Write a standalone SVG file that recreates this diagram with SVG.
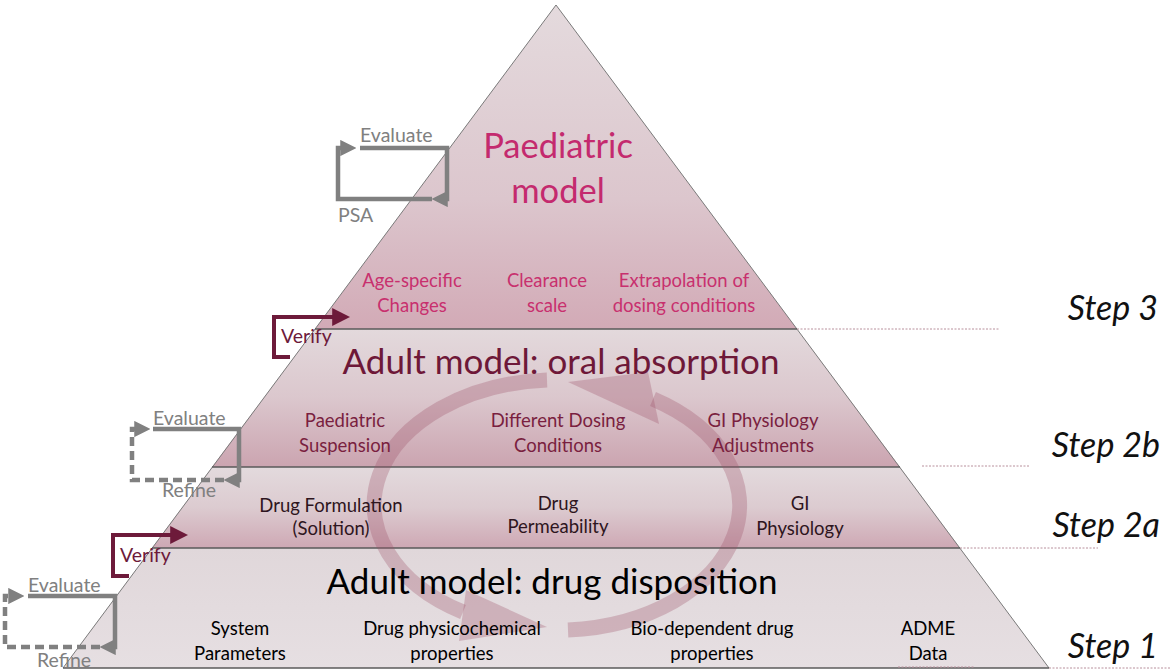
<svg xmlns="http://www.w3.org/2000/svg" width="1171" height="670" viewBox="0 0 1171 670">
<defs>
<linearGradient id="g3" x1="0" y1="0" x2="0" y2="1"><stop offset="0" stop-color="#e4dadd"/><stop offset="0.6" stop-color="#dcc6cd"/><stop offset="1" stop-color="#d2aab6"/></linearGradient>
<linearGradient id="g2b" x1="0" y1="0" x2="0" y2="1"><stop offset="0" stop-color="#e3d9dc"/><stop offset="0.5" stop-color="#dbc7cd"/><stop offset="1" stop-color="#cba4b0"/></linearGradient>
<linearGradient id="g2a" x1="0" y1="0" x2="0" y2="1"><stop offset="0" stop-color="#e3dadd"/><stop offset="0.5" stop-color="#dccbd0"/><stop offset="1" stop-color="#cea8b4"/></linearGradient>
<linearGradient id="g1" x1="0" y1="0" x2="0" y2="1"><stop offset="0" stop-color="#e0d7da"/><stop offset="1" stop-color="#e6dfe2"/></linearGradient>
<marker id="ag" viewBox="0 0 10 10" refX="6" refY="5" markerWidth="3.6" markerHeight="3.6" orient="auto" markerUnits="strokeWidth"><path d="M0,0 L10,5 L0,10 z" fill="#808080"/></marker>
<marker id="am" viewBox="0 0 10 10" refX="6" refY="5" markerWidth="4.5" markerHeight="4.5" orient="auto" markerUnits="strokeWidth"><path d="M0,0 L10,5 L0,10 z" fill="#6d1a3a"/></marker>
<style>
.t{font-family:Lato,"Liberation Sans",sans-serif;text-anchor:middle}
.band{stroke:none}
.side{stroke:#7a7a7a;stroke-width:1;fill:none}
.hl{stroke:#5a5a5a;stroke-width:1.3}
.dot{stroke:#b8909c;stroke-width:1;stroke-dasharray:2 1.5}
.step{font-family:Lato,"Liberation Sans",sans-serif;font-style:italic;font-size:34px;fill:#111;text-anchor:end}
.lp{stroke:#808080;stroke-width:4.5;fill:none}
.ld{stroke:#808080;stroke-width:4.5;fill:none;stroke-dasharray:9 5}
.lv{stroke:#6d1a3a;stroke-width:4;fill:none}
.gl{font-family:Lato,"Liberation Sans",sans-serif;font-size:19.5px;fill:#808080}
.vl{font-family:Lato,"Liberation Sans",sans-serif;font-size:19.5px;fill:#6d1a3a}
.ring{fill:none;stroke:#9a5068;stroke-opacity:0.3;stroke-width:15}
.ringh{fill:#9a5068;fill-opacity:0.3}
.s{font-size:18.5px}
</style>
</defs>
<g id="bands">
<polygon class="band" points="556,5 797,329 315,329" fill="url(#g3)"/>
<polygon class="band" points="315,329 797,329 900,467 212,467" fill="url(#g2b)"/>
<polygon class="band" points="212,467 900,467 960,548 152,548" fill="url(#g2a)"/>
<polygon class="band" points="152,548 960,548 1049,668 63,668" fill="url(#g1)"/>
<polyline class="side" points="63,668 556,5 1049,668"/>
<line class="hl" x1="315" y1="329" x2="797" y2="329"/>
<line class="hl" x1="212" y1="467" x2="900" y2="467"/>
<line class="hl" x1="152" y1="548" x2="960" y2="548"/>
<line class="hl" x1="63" y1="668" x2="1049" y2="668"/>
<line class="dot" x1="797" y1="329" x2="1000" y2="329"/>
<line class="dot" x1="922" y1="466" x2="1030" y2="466"/>
<line class="dot" x1="960" y1="548" x2="1098" y2="548"/>
<line class="dot" x1="1049" y1="668" x2="1171" y2="668"/>
<line class="dot" x1="898" y1="667" x2="975" y2="667"/>
</g>
<g id="cycle">
<path class="ring" d="M 547 380 A 183 125 0 0 0 463 612"/>
<polygon class="ringh" points="547,627 466,590 459,641"/>
<path class="ring" d="M 568 630 A 183 125 0 0 0 653 399"/>
<polygon class="ringh" points="568,382 648,372 659,424"/>
</g>
<g id="paediatric">
<text class="t" x="558" y="158" font-size="34.5" fill="#c42a6e">Paediatric</text>
<text class="t" x="558" y="203" font-size="34.5" fill="#c42a6e">model</text>
<text class="t s" x="412" y="287" fill="#c8306e">Age-specific</text>
<text class="t s" x="412" y="312" fill="#c8306e">Changes</text>
<text class="t s" x="547" y="287" fill="#c8306e">Clearance</text>
<text class="t s" x="547" y="312" fill="#c8306e">scale</text>
<text class="t s" x="684" y="287" fill="#c8306e">Extrapolation of</text>
<text class="t s" x="684" y="312" fill="#c8306e">dosing conditions</text>
</g>
<g id="oral">
<text class="t" x="561" y="374" font-size="35" fill="#6e1838">Adult model: oral absorption</text>
<text class="t s" x="345" y="427" fill="#7a1f40">Paediatric</text>
<text class="t s" x="345" y="452" fill="#7a1f40">Suspension</text>
<text class="t s" x="558" y="427" fill="#7a1f40">Different Dosing</text>
<text class="t s" x="558" y="452" fill="#7a1f40">Conditions</text>
<text class="t s" x="763" y="427" fill="#7a1f40">GI Physiology</text>
<text class="t s" x="763" y="452" fill="#7a1f40">Adjustments</text>
</g>
<g id="step2a">
<text class="t s" x="331" y="512" fill="#2e1520">Drug Formulation</text>
<text class="t s" x="331" y="535" fill="#2e1520">(Solution)</text>
<text class="t s" x="558" y="510" fill="#2e1520">Drug</text>
<text class="t s" x="558" y="533" fill="#2e1520">Permeability</text>
<text class="t s" x="800" y="510" fill="#2e1520">GI</text>
<text class="t s" x="800" y="535" fill="#2e1520">Physiology</text>
</g>
<g id="disposition">
<text class="t" x="552" y="594" font-size="35" fill="#000">Adult model: drug disposition</text>
<text class="t s" x="240" y="635" fill="#000">System</text>
<text class="t s" x="240" y="660" fill="#000">Parameters</text>
<text class="t s" x="452" y="635" fill="#000">Drug physicochemical</text>
<text class="t s" x="452" y="660" fill="#000">properties</text>
<text class="t s" x="712" y="635" fill="#000">Bio-dependent drug</text>
<text class="t s" x="712" y="660" fill="#000">properties</text>
<text class="t s" x="928" y="635" fill="#000">ADME</text>
<text class="t s" x="928" y="660" fill="#000">Data</text>
</g>
<g id="steps">
<text class="step" x="1158" y="320">Step 3</text>
<text class="step" x="1160" y="457">Step 2b</text>
<text class="step" x="1160" y="537">Step 2a</text>
<text class="step" x="1158" y="658">Step 1</text>
</g>
<g id="loops">
<path class="lp" d="M 432 199 H 338 V 148 H 350" marker-end="url(#ag)"/>
<path class="lp" d="M 360 148 H 447 V 199 H 438" marker-end="url(#ag)"/>
<text class="gl" x="360" y="142">Evaluate</text>
<text class="gl" x="338" y="222">PSA</text>
<path class="ld" d="M 224 480 H 132 V 429 H 144" marker-end="url(#ag)"/>
<path class="lp" d="M 153 429 H 239 V 480 H 230" marker-end="url(#ag)"/>
<text class="gl" x="153" y="425">Evaluate</text>
<text class="gl" x="162" y="497">Refine</text>
<path class="ld" d="M 100 647 H 5 V 596 H 18" marker-end="url(#ag)"/>
<path class="lp" d="M 28 596 H 115 V 647 H 106" marker-end="url(#ag)"/>
<text class="gl" x="28" y="592">Evaluate</text>
<text class="gl" x="37" y="667">Refine</text>
<path class="lv" d="M 290 357 H 274 V 317 H 343" marker-end="url(#am)"/>
<text class="vl" x="281" y="343">Verify</text>
<path class="lv" d="M 129 576 H 113 V 535 H 181" marker-end="url(#am)"/>
<text class="vl" x="120" y="562">Verify</text>
</g>
</svg>
